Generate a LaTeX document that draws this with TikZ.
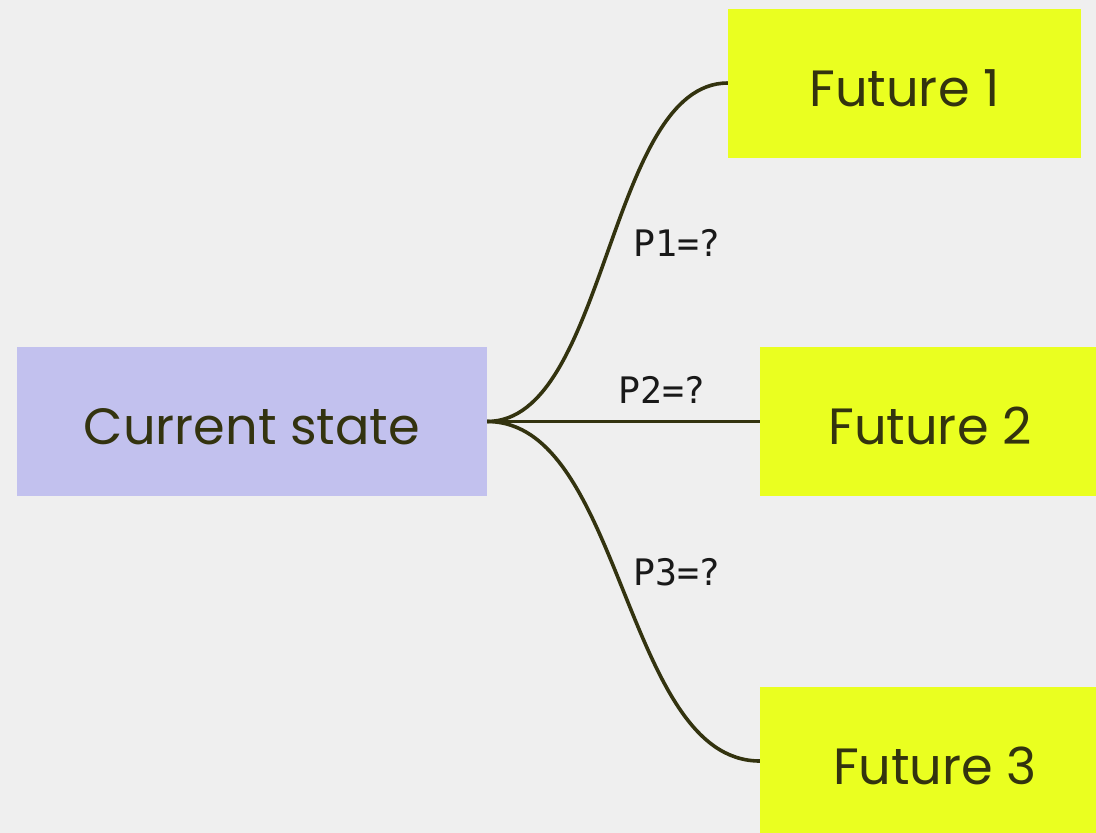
\documentclass[tikz,border=0pt]{standalone}
\usepackage{fontspec}
\setmainfont{Poppins}
\newfontfamily\labelfont{DejaVu Sans Mono}
\usetikzlibrary{positioning}

\definecolor{paper}{HTML}{EFEFEF}
\definecolor{ink}{HTML}{33330F}
\definecolor{statefill}{HTML}{C2C1EE}
\definecolor{futurefill}{HTML}{EAFF20}

\begin{document}
\begin{tikzpicture}[x=1pt, y=-1pt]

\tikzstyle{box}=[inner sep=0pt, text=ink, text height=46pt, text depth=0pt, font=\fontsize{51}{60}\selectfont]
\tikzstyle{state}=[box, fill=statefill, minimum width=470pt, minimum height=149pt]
\tikzstyle{future}=[box, fill=futurefill, minimum height=149pt]
\tikzstyle{line}=[draw, ink, line width=3.6pt]
\tikzstyle{prob}=[text=black!90, font=\labelfont\fontsize{36.5}{40}\selectfont]

\useasboundingbox (0,0) rectangle (1096,833);
\fill[paper] (0,0) rectangle (1096,833);
\clip (0,0) rectangle (1096,833);

\node[state] (current) at (252,421.5) {Current state};

\node[future, minimum width=353pt] (future1) at (904.5,83) {Future 1};
\node[future, minimum width=340pt] (future2) at (930,421.5) {Future 2};
\node[future, minimum width=350pt] (future3) at (935,761) {Future 3};

\path[line] (current.east) .. controls +(120,0) and +(-120,0) .. (future1.west);
\path[line] (current.east) -- (future2.west);
\path[line] (current.east) .. controls +(136,0) and +(-136,0) .. (future3.west);

\node[prob] (p1) at (677,243) {P1=?};
\node[prob] (p2) at (662,390) {P2=?};
\node[prob] (p3) at (677,572) {P3=?};

\end{tikzpicture}
\end{document}
